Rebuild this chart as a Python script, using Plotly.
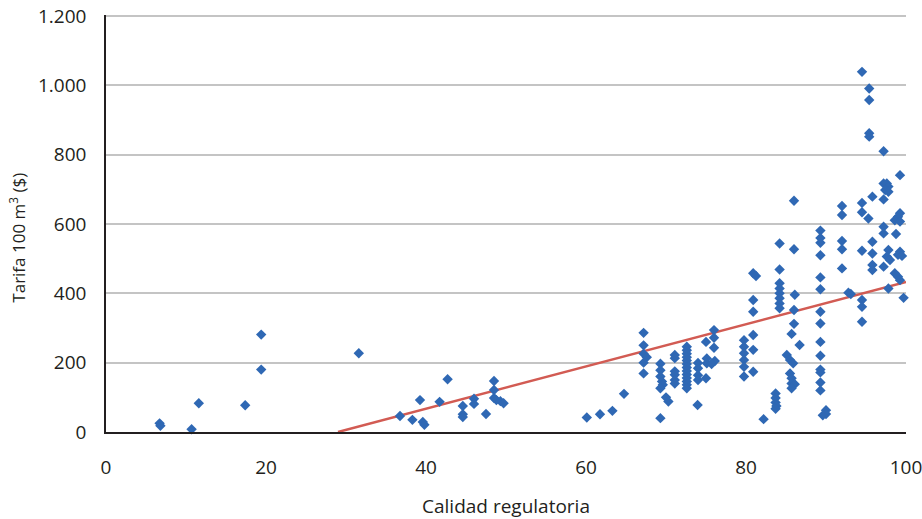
import plotly.graph_objects as go

# Scatter data: Calidad regulatoria (x) vs Tarifa 100 m3 (y)
calidad = [
    6.7, 6.8, 10.7, 11.6, 17.4, 19.4, 19.4, 31.6,
    36.75, 38.3, 39.6, 39.8, 39.25, 41.7, 42.7, 44.6, 44.6, 44.6, 46.0, 46.0, 47.5,
    48.5, 48.5, 48.5, 48.8, 49.3, 49.7,
    60.1, 61.75, 63.3, 64.75,
    67.2, 67.2, 67.2, 67.6, 67.2, 67.2,
    69.3, 69.3, 69.3, 69.5, 69.6, 69.3, 70.0, 70.3, 69.3,
    71.1, 71.1, 71.1, 71.1, 71.1, 71.1,
    72.6, 72.6, 72.6, 72.6, 72.6, 72.6, 72.6, 72.6, 72.6, 72.6, 72.6, 72.6, 72.6,
    74.0, 74.0, 74.0, 74.0, 73.95,
    75.1, 75.1, 75.0, 75.0,
    76.0, 76.0, 76.0, 76.1, 75.7,
    79.75, 79.75, 79.75, 79.75, 79.75, 79.75,
    80.9, 81.25, 80.9, 80.9, 80.9, 80.9, 80.9,
    82.2,
    83.7, 83.7, 83.7, 83.8, 83.7,
    84.2, 84.2, 84.2, 84.2, 84.2, 84.2, 84.2, 84.2,
    86.0, 86.0, 86.1, 86.0, 86.0, 85.7, 86.7, 85.1, 85.5, 85.9, 85.5, 85.7, 85.7, 86.1, 85.7,
    89.3, 89.3, 89.3, 89.3, 89.3, 89.3, 89.3, 89.3, 89.3, 89.3, 89.3, 89.3, 89.3, 89.3,
    90.0, 90.0, 89.6,
    92.0, 92.0, 92.0, 92.0, 92.0, 92.8, 93.1,
    94.5, 94.5, 94.5, 94.5, 94.5, 94.5, 94.5,
    95.4, 95.4, 95.4, 95.4, 95.3,
    95.8, 95.8, 95.8, 95.8, 95.8,
    97.2, 97.2, 97.6, 97.8, 97.4, 97.8, 97.2, 97.2, 97.2, 97.2,
    97.8, 97.6, 98.0, 97.8,
    99.25, 99.25, 99.0, 98.6, 99.25, 98.75, 99.25, 99.0, 99.5, 98.6, 99.0, 99.25, 99.7, 100.2,
]
tarifa = [
    25, 18, 8, 83, 77, 281, 180, 227,
    46, 35, 29, 21, 92, 87, 152, 75, 51, 43, 96, 81, 52,
    147, 121, 98, 92, 89, 83,
    42, 51, 61, 110,
    286, 250, 226, 216, 200, 169,
    197, 178, 160, 146, 136, 126, 100, 88, 40,
    222, 213, 175, 165, 150, 140,
    246, 236, 226, 216, 206, 196, 186, 176, 166, 156, 146, 136, 126,
    199, 184, 164, 150, 78,
    212, 198, 155, 260,
    294, 272, 243, 205, 196,
    265, 246, 227, 208, 188, 160,
    458, 450, 381, 347, 280, 237, 174,
    37,
    111, 98, 85, 75, 67,
    544, 469, 429, 414, 400, 386, 371, 357,
    667, 527, 396, 352, 312, 283, 251, 222, 208, 198, 169, 155, 140, 138, 126,
    581, 560, 546, 510, 446, 412, 347, 313, 260, 220, 180, 172, 143, 120,
    63, 52, 48,
    652, 626, 551, 527, 472, 402, 398,
    1039, 661, 634, 523, 381, 361, 318,
    991, 958, 862, 852, 616,
    679, 549, 515, 482, 467,
    810, 717, 717, 708, 698, 693, 671, 592, 573, 477,
    525, 506, 496, 414,
    741, 631, 621, 611, 607, 571, 520, 511, 508, 458, 448, 438, 387, 61,
]

# Trend line (linear fit as drawn)
trend_x = [29.0, 100.0]
trend_y = [0, 433]

y_ticks = [0, 200, 400, 600, 800, 1000, 1200]
y_tick_labels = ["0", "200", "400", "600", "800", "1.000", "1.200"]
x_ticks = [0, 20, 40, 60, 80, 100]
x_tick_labels = ["0", "20", "40", "60", "80", "100"]

FONT = "Open Sans, Noto Sans, sans-serif"

fig = go.Figure()
fig.add_trace(go.Scatter(
    x=trend_x, y=trend_y, mode="lines",
    line=dict(color="#D25B53", width=2.5),
    hoverinfo="skip", showlegend=False, cliponaxis=False,
))
fig.add_trace(go.Scatter(
    x=calidad, y=tarifa, mode="markers",
    marker=dict(symbol="diamond", size=8, color="#2F68B4", line=dict(width=0)),
    showlegend=False, cliponaxis=False,
))

fig.update_layout(
    width=922, height=519,
    margin=dict(l=106, r=16, t=15, b=87),
    paper_bgcolor="white", plot_bgcolor="white",
    font=dict(family=FONT, size=19, color="#231F20"),
    xaxis=dict(
        range=[0, 100], tickvals=x_ticks, ticktext=x_tick_labels,
        showgrid=False, zeroline=False, automargin=False,
        showline=True, linecolor="#231F20", linewidth=2,
        ticks="", ticklabelstandoff=17, ticklabeloverflow="allow",
        tickfont=dict(size=19),
        title=dict(text="Calidad regulatoria", font=dict(size=19), standoff=34),
    ),
    yaxis=dict(
        range=[0, 1203], tickvals=y_ticks, ticktext=y_tick_labels,
        showgrid=True, gridcolor="#C4C4C4", gridwidth=1.5,
        zeroline=False, automargin=False,
        showline=True, linecolor="#231F20", linewidth=1.5,
        ticks="", ticklabelstandoff=14, ticklabeloverflow="allow",
        tickfont=dict(size=19),
    ),
    annotations=[dict(
        text="Tarifa 100 m<sup>3</sup> ($)", textangle=-90,
        xref="paper", yref="paper", x=-0.11, y=0.466,
        xanchor="center", yanchor="middle", showarrow=False,
        font=dict(size=17, family=FONT, color="#231F20"),
    )],
)

# Remove the default 8px page margin so the figure sits at the window's corner.
fig.write_html(
    "out.html",
    config={"displayModeBar": False},
    post_script="document.body.style.margin='0';document.body.style.overflow='hidden';",
)
